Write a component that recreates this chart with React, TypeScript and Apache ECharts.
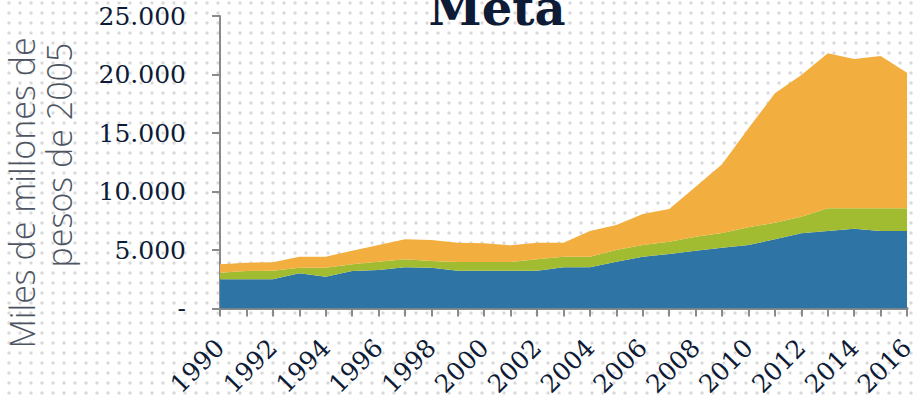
import React, { useEffect, useRef } from "react";
import * as echarts from "echarts";

const years = [
  "1990", "1991", "1992", "1993", "1994", "1995", "1996", "1997", "1998", "1999",
  "2000", "2001", "2002", "2003", "2004", "2005", "2006", "2007", "2008", "2009",
  "2010", "2011", "2012", "2013", "2014", "2015", "2016",
];
const serieAzul = [2500, 2500, 2500, 3010, 2720, 3210, 3290, 3520, 3490, 3230, 3230, 3230, 3230, 3520, 3520, 4000, 4430, 4660, 4940, 5200, 5430, 5910, 6430, 6620, 6820, 6620, 6620];
const serieVerde = [560, 710, 730, 480, 770, 570, 710, 690, 570, 740, 740, 740, 980, 910, 910, 1000, 1000, 1050, 1200, 1250, 1510, 1420, 1420, 1940, 1740, 1940, 1940];
const serieNaranja = [720, 700, 720, 940, 940, 1160, 1430, 1700, 1790, 1650, 1600, 1430, 1410, 1190, 2190, 2140, 2650, 2790, 4270, 5880, 8460, 11060, 12110, 13250, 12760, 13020, 11590];
const titulo = "Meta";
const ejeY1 = "Miles de millones de";
const ejeY2 = "pesos de 2005";

const navy = "#0d1b36";
const axisGrey = "#8a8a8a";

function fmt(v: number): string {
  if (v === 0) return "-";
  return String(v).replace(/\B(?=(\d{3})+(?!\d))/g, ".");
}

export default function App() {
  const ref = useRef<HTMLDivElement>(null);
  useEffect(() => {
    if (!ref.current) return;
    const chart = echarts.init(ref.current, undefined, { renderer: "svg" });
    const mk = (name: string, data: number[], color: string) => ({
      name,
      type: "line",
      stack: "total",
      data,
      symbol: "none",
      lineStyle: { width: 0 },
      areaStyle: { color, opacity: 1 },
      itemStyle: { color },
    });
    chart.setOption({
      animation: false,
      grid: { left: 220, right: 5, top: 16, bottom: 92.5 },
      xAxis: {
        type: "category",
        data: years,
        boundaryGap: false,
        axisLine: { lineStyle: { color: axisGrey, width: 3 } },
        axisTick: { show: true, interval: 0, length: 8, lineStyle: { color: axisGrey, width: 2 } },
        axisLabel: {
          interval: 1,
          rotate: 45,
          margin: 35,
          color: navy,
          fontFamily: "DejaVu Serif",
          fontSize: 25,
        },
      },
      yAxis: {
        type: "value",
        min: 0,
        max: 25000,
        interval: 5000,
        axisLine: { show: true, lineStyle: { color: axisGrey, width: 2 } },
        axisTick: { show: true, length: 8, lineStyle: { color: axisGrey, width: 2 } },
        splitLine: { show: false },
        axisLabel: {
          margin: 34,
          color: navy,
          fontFamily: "DejaVu Serif",
          fontSize: 25,
          formatter: (v: number) => fmt(v),
        },
      },
      graphic: [
        {
          type: "text",
          x: 497,
          y: 8,
          z: 100,
          style: {
            text: titulo,
            font: 'bold 48px "DejaVu Serif"',
            fill: navy,
            align: "center",
            verticalAlign: "middle",
          },
        },
        {
          type: "text",
          x: 22,
          y: 193,
          rotation: Math.PI / 2,
          style: {
            text: ejeY1,
            font: '300 34px "Open Sans"',
            fill: "#4d5563",
            align: "center",
            verticalAlign: "middle",
          },
        },
        {
          type: "text",
          x: 59,
          y: 155,
          rotation: Math.PI / 2,
          style: {
            text: ejeY2,
            font: '300 34px "Open Sans"',
            fill: "#4d5563",
            align: "center",
            verticalAlign: "middle",
          },
        },
      ],
      series: [
        mk("Serie 1", serieAzul, "#2e74a5"),
        mk("Serie 2", serieVerde, "#a2bc32"),
        mk("Serie 3", serieNaranja, "#f2af40"),
      ],
    });
    return () => chart.dispose();
  }, []);
  return (
    <div
      style={{
        position: "absolute",
        left: 0,
        top: 0,
        width: 918,
        height: 401,
        backgroundColor: "#ffffff",
        backgroundImage: "radial-gradient(circle at 50% 50%, #d8d8d8 0, #d8d8d8 1.3px, transparent 2px)",
        backgroundSize: "11px 10px",
        backgroundPosition: "3.5px 8px",
      }}
    >
      <div ref={ref} style={{ width: 918, height: 401 }} />
    </div>
  );
}
